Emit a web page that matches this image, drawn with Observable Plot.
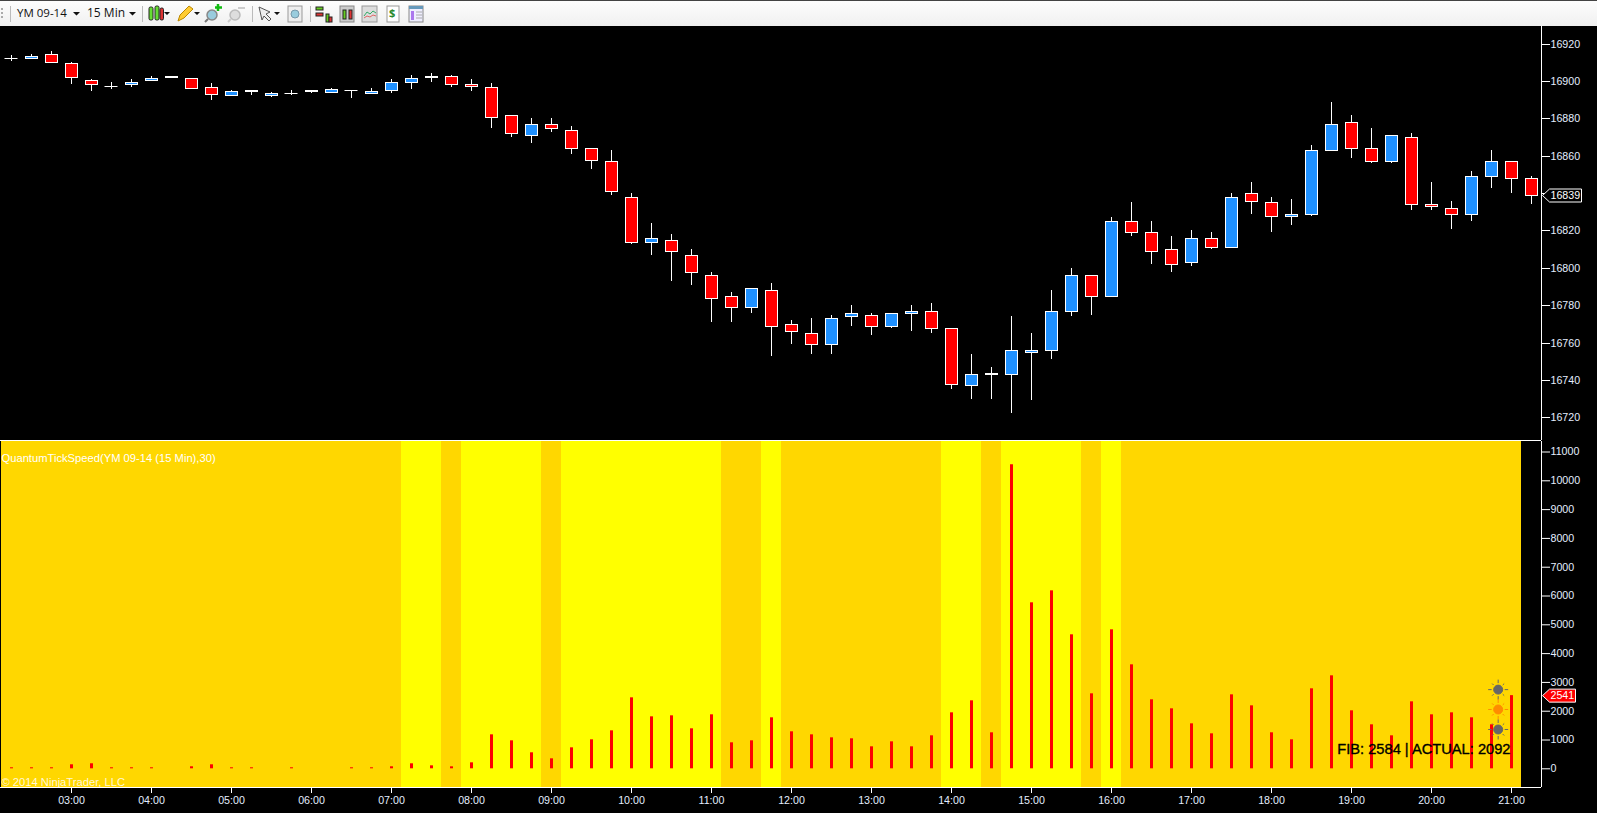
<!DOCTYPE html>
<html><head><meta charset="utf-8">
<script src="https://cdn.jsdelivr.net/npm/d3@7"></script>
<script src="https://cdn.jsdelivr.net/npm/@observablehq/plot@0.6"></script>
<style>
html,body{margin:0;padding:0;background:#000;overflow:hidden;width:1597px;height:813px}
#toolbar{position:relative;height:25px;border-top:1px solid #444;background:linear-gradient(#fdfdfd,#f0f0f0);font-family:"Open Sans","Noto Sans",sans-serif;font-size:12px;color:#111}
#toolbar span{position:absolute;top:4px;line-height:16px}
#toolbar svg{position:absolute;top:0;left:0}
#chart svg{display:block}
#divider{height:1px;background:#fff;width:1541px}
</style></head><body>
<div id="toolbar">
<svg width="440" height="25" viewBox="0 0 440 25">
<g fill="#aaa"><rect x="1" y="7" width="2" height="2"/><rect x="1" y="11" width="2" height="2"/><rect x="1" y="15" width="2" height="2"/></g>
<g stroke="#bbb"><path d="M10.5 5V21M142.5 5V21M252.5 5V21M310.5 5V21"/></g>
<g fill="#111"><path d="M73 11h7l-3.500 3.500zM129 11h7l-3.500 3.500zM164 11h6l-3 3zM194 11h6l-3 3zM274 11h6l-3 3z"/></g>
<g stroke="#222"><rect x="149" y="6" width="4" height="13" rx="1.500" fill="#6d3"/><rect x="155" y="5" width="4" height="14" rx="1.500" fill="#6d3"/><rect x="160" y="7" width="3.500" height="12" rx="1.500" fill="#d33"/></g>
<path d="M178 20l2-6 9-9 4 3-9 9z" fill="#fc3" stroke="#b80"/>
<circle cx="212" cy="14" r="5" fill="#9cd" stroke="#888" stroke-width="1.500"/><path d="M208 18l-3 3" stroke="#777" stroke-width="2"/><path d="M218 3v7M215 6.500h7" stroke="#1b1" stroke-width="2.500"/>
<circle cx="235" cy="14" r="5" fill="#ddd" stroke="#bbb" stroke-width="1.500"/><path d="M231 18l-3 3" stroke="#ccc" stroke-width="2"/><path d="M238 7h7" stroke="#ccc" stroke-width="2"/>
<path d="M259 6l11 5-4 2 5 5-2 2-5-5-2 4z" fill="#eee" stroke="#555"/>
<rect x="288" y="5" width="14" height="16" fill="#eee" stroke="#999"/><circle cx="295" cy="13" r="4" fill="#9cd" stroke="#79a"/>
<g stroke="#222"><rect x="316" y="6" width="7" height="3" fill="#6c2"/><rect x="316" y="12" width="7" height="3" fill="#d33"/><rect x="326" y="13" width="3" height="8" fill="#6c2"/><rect x="329" y="16" width="3" height="5" fill="#d33"/></g>
<rect x="340" y="5" width="14" height="16" fill="#ccc" stroke="#888"/><rect x="343" y="9" width="3" height="9" fill="#6c2" stroke="#222"/><rect x="349" y="9" width="3" height="9" fill="#d33" stroke="#222"/>
<rect x="362" y="5" width="15" height="16" fill="#ddd" stroke="#999"/><path d="M364 15l3-4 3 2 3-3 3 2" fill="none" stroke="#3a6"/><path d="M364 17l3-2 3 1 3-2 3 1" fill="none" stroke="#d66"/>
<rect x="387" y="5" width="12" height="16" fill="#fff" stroke="#999"/>
<rect x="409" y="5" width="14" height="16" fill="#eef" stroke="#888"/><rect x="409" y="5" width="14" height="3" fill="#69b"/><rect x="411" y="10" width="3" height="9" fill="#a7e"/><path d="M416 11h6M416 14h6M416 17h6" stroke="#aaa"/>
</svg>
<span style="left:17px;font-size:11.5px">YM 09-14</span><span style="left:87px">15 Min</span>
<span style="left:389px;font-weight:700;color:#2a8a2a;font-size:11px">$</span>
</div>
<div id="chart"></div>
<script>
// ---------- data ----------
const times = ["02:15","02:30","02:45","03:00","03:15","03:30","03:45","04:00","04:15","04:30","04:45","05:00","05:15","05:30","05:45","06:00","06:15","06:30","06:45","07:00","07:15","07:30","07:45","08:00","08:15","08:30","08:45","09:00","09:15","09:30","09:45","10:00","10:15","10:30","10:45","11:00","11:15","11:30","11:45","12:00","12:15","12:30","12:45","13:00","13:15","13:30","13:45","14:00","14:15","14:30","14:45","15:00","15:15","15:30","15:45","16:00","16:15","16:30","16:45","17:00","17:15","17:30","17:45","18:00","18:15","18:30","18:45","19:00","19:15","19:30","19:45","20:00","20:15","20:30","20:45","21:00","21:15"];
const opens  = [16912.5,16912.5,16914.5,16909.5,16900.5,16897.5,16898.5,16900.5,16902.5,16901.5,16897,16892.5,16895,16892.5,16893.5,16895,16894,16895,16893.5,16895.5,16899.5,16902.5,16903,16898.5,16897,16882,16871,16877,16874,16864,16857,16838,16814,16815,16807,16796,16785,16779,16788,16770,16765,16759,16774,16775,16769,16776,16777,16768,16737,16743.5,16743,16755,16756,16777,16796,16785,16825,16819,16810,16803,16816,16811,16840,16835,16828,16829,16863,16878,16864,16857,16870,16834,16832,16829,16849,16857,16848];
const highs  = [16914,16914.5,16916,16910,16901,16899.5,16901,16902.5,16902.5,16901.5,16899,16895,16895.5,16894,16895,16895.5,16896.5,16895.5,16896.5,16901,16903.5,16904.5,16903.5,16901,16899,16882,16880,16880,16876,16864,16863,16840,16824,16818,16810,16798,16787,16789,16792,16772,16773,16775,16780,16776,16776,16780,16781,16768,16754,16747,16774,16765,16788,16800,16796,16827,16835,16825,16817,16820,16819,16840,16846,16838,16837,16866,16889,16882,16875,16871,16872,16846,16836,16852,16863,16857,16849];
const lows   = [16911,16912,16909.5,16898.5,16894.5,16896,16897,16900.5,16901.5,16896.5,16890,16892.5,16892.5,16891.5,16892.5,16893.5,16893.5,16891,16893.5,16893.5,16896,16899.5,16897,16894.5,16875,16870,16867,16873,16861,16853,16839,16813,16807,16793,16791,16771,16771,16776,16753,16759,16754,16754,16769,16764,16768,16766,16765,16735,16730,16730,16722,16729,16751,16774,16775,16785,16817,16802,16798,16801,16810,16811,16829,16819,16823,16828,16863,16859,16856,16856,16831,16831,16821,16825,16843,16840,16834];
const closes = [16912.5,16913.5,16910.5,16902,16898.5,16897.5,16899.5,16901.5,16902,16896.5,16893,16894.5,16894.5,16893.5,16893.5,16894.5,16896,16895,16894.5,16899.5,16901.5,16902,16898.5,16897.5,16881,16872,16877,16875,16864,16858,16841,16814,16816,16809,16798,16784,16779,16789,16769,16766,16759,16773,16776,16769,16776,16777,16768,16738,16743,16743,16756,16756,16777,16796,16785,16825,16819,16809,16802,16816,16811,16838,16836,16828,16829,16863,16877,16864,16857,16871,16834,16833,16829,16849,16857,16848,16839];
const tickSpeed = [35,35,35,140,175,35,35,35,0,70,140,35,35,0,35,0,0,35,35,70,174,104,69,208,1180,972,556,347,729,1007,1319,2465,1805,1840,1389,1875,903,972,1771,1285,1180,1076,1042,764,937,764,1146,1944,2361,1250,10555,5764,6180,4653,2604,4826,3611,2396,2083,1562,1215,2569,2187,1250,1007,2778,3229,2014,1528,1146,2326,1875,1944,1771,1528,2541];
const yellowFrom = ["07:15","08:00","09:15","11:45","14:00","14:45","16:00"];
const yellowTo   = ["07:30","08:45","11:00","11:45","14:15","15:30","16:00"];
const hourTicks = ["03:00","04:00","05:00","06:00","07:00","08:00","09:00","10:00","11:00","12:00","13:00","14:00","15:00","16:00","17:00","18:00","19:00","20:00","21:00"];
const priceTicks = [16720,16740,16760,16780,16800,16820,16840,16860,16880,16900,16920];
const speedTicks = [0,1000,2000,3000,4000,5000,6000,7000,8000,9000,10000,11000];
const lastPrice = 16839, lastSpeed = 2541;
const sunLevels = [2750,2060,1365];
const sunColors = ["#666666","#ff8c00","#666666"];
const sunTime = "20:50";
const indicatorTitle = "QuantumTickSpeed(YM 09-14 (15 Min),30)";
const copyright = "© 2014 NinjaTrader, LLC";
const fibText = "FIB: 2584 | ACTUAL: 2092";

// ---------- helpers ----------
const toMin = s => { const [h,m] = s.split(":").map(Number); return h*60+m; };
const fmtTime = m => d3.format("02")(Math.floor(m/60))+":"+d3.format("02")(m%60);
const RED="#ff0000", BLUE="#1e90ff", TXT="#e4eeff";
const font="Liberation Sans, Arial, sans-serif";
const W=1597, AXIS=1541;
const xDomain=[126.75,1282.5];
const xScale={type:"linear",domain:xDomain,range:[0,AXIS]};
const candles=times.map((t,i)=>({m:toMin(t),o:opens[i],h:highs[i],l:lows[i],c:closes[i]}));
const fillOf=d=>Math.abs(d.c-d.o)<1?"#fff":(d.c>d.o?BLUE:RED);
const tagSymbol=w=>({draw(c){c.moveTo(0,0);c.lineTo(7,-6.500);c.lineTo(w,-6.500);c.lineTo(w,6.500);c.lineTo(7,6.500);c.closePath();}});
const sunSymbol={draw(c){
  c.moveTo(4.5,0);c.arc(0,0,4.5,0,2*Math.PI);c.closePath();
  for(let a=0;a<8;a++){const t=a*Math.PI/4,r2=a%2?8.5:10;c.moveTo(6.5*Math.cos(t),6.5*Math.sin(t));c.lineTo(r2*Math.cos(t),r2*Math.sin(t));}
}};
const base={width:W,marginLeft:0,marginRight:W-AXIS,marginTop:0,
  style:{background:"#000",fontFamily:font,fontSize:"10.67px",color:TXT,display:"block"}};

// ---------- price panel ----------
const pricePanel=Plot.plot({...base,height:414,marginBottom:0,
  x:{...xScale,axis:null},
  y:{type:"linear",domain:[16707.77,16929.55],range:[414,0],round:true,axis:null},
  marks:[
    Plot.ruleX(candles,{x:"m",y1:"l",y2:"h",stroke:"#fff",strokeWidth:1}),
    Plot.rect(candles.filter(d=>d.o!==d.c),{x1:d=>d.m-4.5,x2:d=>d.m+4.5,y1:"o",y2:"c",fill:fillOf,stroke:"#fff",strokeWidth:1,dx:0.5,dy:0.5}),
    Plot.ruleY(candles.filter(d=>d.o===d.c),{y:"o",x1:d=>d.m-4.875,x2:d=>d.m+4.875,stroke:"#fff",strokeWidth:1}),
    Plot.ruleX([xDomain[1]],{stroke:"#fff"}),
    Plot.axisY(priceTicks,{anchor:"right",tickSize:8,tickPadding:1,stroke:"#fff",fill:TXT,fontSize:10.67,tickFormat:d=>String(d)}),
    Plot.dot([lastPrice],{y:d=>d,frameAnchor:"right",symbol:tagSymbol(39),fill:"#000",stroke:"#fff",strokeWidth:1,dx:1}),
    Plot.text([lastPrice],{y:d=>d,text:d=>String(d),frameAnchor:"right",textAnchor:"start",dx:9,fill:"#fff",fontSize:10.67})
  ]});

// ---------- tick speed panel ----------
const speedPanel=Plot.plot({...base,height:372,marginBottom:26,
  x:{...xScale,axis:null},
  y:{type:"linear",domain:[-649,11365],range:[346,0],axis:null},
  marks:[
    Plot.rect([0],{x1:xDomain[0]+0.75,x2:toMin("21:00")+7.5,fill:"#ffd700"}),
    Plot.rect(yellowFrom.map((f,i)=>[toMin(f)-7.5,toMin(yellowTo[i])+7.5]),{x1:"0",x2:"1",fill:"#ffff00"}),
    Plot.ruleX(candles.slice(0,tickSpeed.length),{x:"m",y1:0,y2:(d,i)=>tickSpeed[i],stroke:RED,strokeWidth:3}),
    Plot.ruleX([xDomain[1]],{stroke:"#fff"}),
    Plot.ruleY([-649],{stroke:"#fff"}),
    Plot.axisX(hourTicks.map(toMin),{anchor:"bottom",tickSize:6,tickPadding:3,stroke:"#fff",fill:TXT,fontSize:10.67,tickFormat:fmtTime}),
    Plot.axisY(speedTicks,{anchor:"right",tickSize:8,tickPadding:1,stroke:"#fff",fill:TXT,fontSize:10.67,tickFormat:d=>String(d)}),
    Plot.text([indicatorTitle],{text:d=>d,frameAnchor:"top-left",textAnchor:"start",dx:1,dy:13,fill:"#fff",fontSize:11.2}),
    Plot.text([copyright],{text:d=>d,frameAnchor:"bottom-left",textAnchor:"start",dx:1,dy:-2,fill:"#fff",fillOpacity:0.85,fontSize:11.2}),
    Plot.text([fibText],{text:d=>d,frameAnchor:"bottom-right",textAnchor:"end",dx:-31,dy:-34,fill:"#000",stroke:"#000",strokeWidth:0.35,fontSize:14.67}),
    Plot.dot(sunLevels,{x:()=>toMin(sunTime),y:d=>d,symbol:sunSymbol,fill:(d,i)=>sunColors[i],stroke:(d,i)=>sunColors[i],strokeWidth:1}),
    Plot.dot([lastSpeed],{y:d=>d,frameAnchor:"right",symbol:tagSymbol(33),fill:RED,stroke:"#fff",strokeWidth:1,dx:1}),
    Plot.text([lastSpeed],{y:d=>d,text:d=>String(d),frameAnchor:"right",textAnchor:"start",dx:9,fill:"#fff",fontSize:10.67})
  ]});

const host=document.getElementById("chart");
host.append(pricePanel);
const dividerLine=document.createElement("div");dividerLine.id="divider";host.append(dividerLine);
host.append(speedPanel);
</script>
</body></html>
